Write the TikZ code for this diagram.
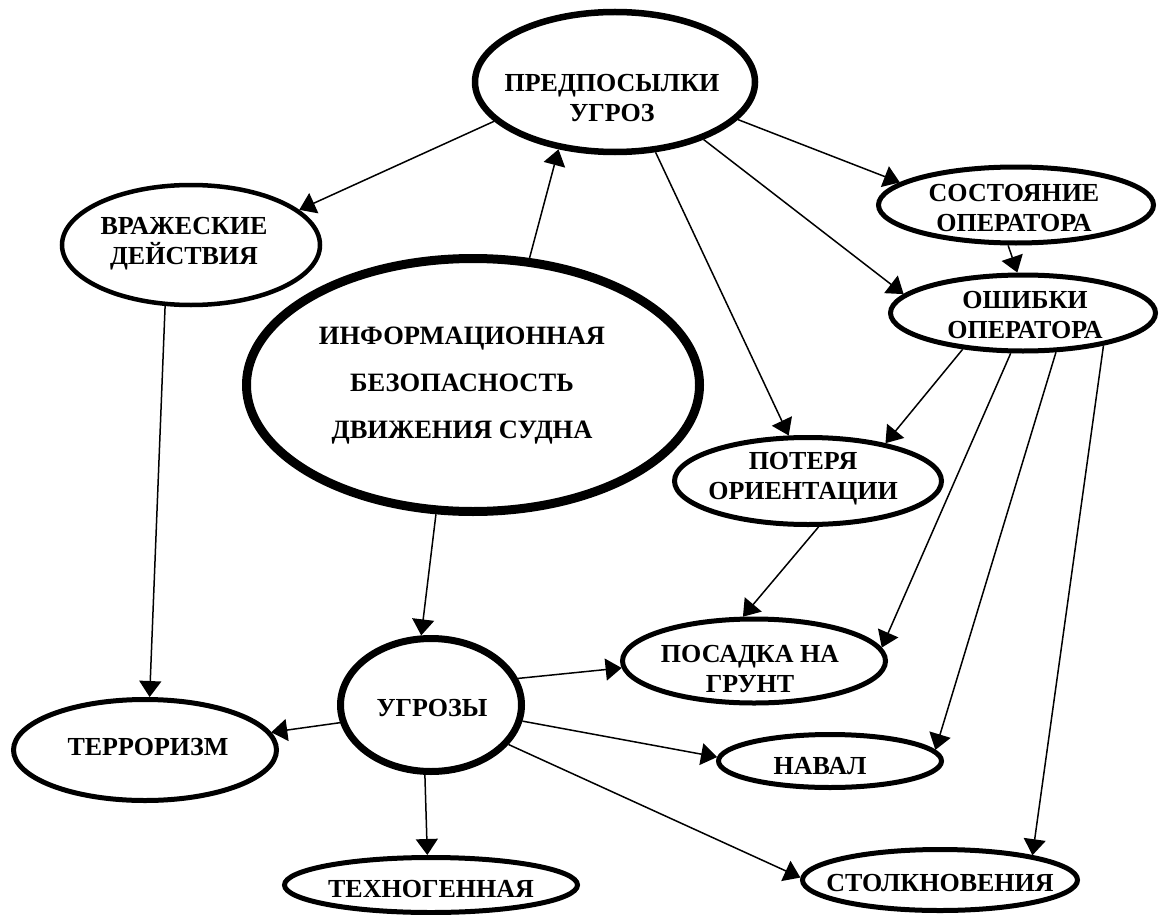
\documentclass[tikz,border=0pt]{standalone}
\usepackage{fontspec}
\setmainfont{Liberation Serif}
\usetikzlibrary{shapes.geometric,arrows.meta}
\begin{document}
\begin{tikzpicture}[x=1pt,y=-1pt,
  el/.style={ellipse, draw, inner sep=0pt, line width=5pt},
  txt/.style={align=center, font=\fontsize{26}{30}\selectfont\bfseries, inner sep=0pt},
  bigtxt/.style={align=center, font=\fontsize{26.5}{47}\selectfont\bfseries, inner sep=0pt},
  arr/.style={-{Triangle[length=16pt,width=22pt]}, line width=1.5pt}]
\useasboundingbox (0,0) rectangle (1159,915);
% ellipses
\node[el, line width=6.5pt, minimum width=280pt, minimum height=140pt] (pre) at (615,82) {};
\node[el, line width=4.5pt, minimum width=258pt, minimum height=120pt] (vra) at (191,245) {};
\node[el, minimum width=275pt, minimum height=76pt] (sos) at (1016,205) {};
\node[el, minimum width=265pt, minimum height=76pt] (osh) at (1023,313) {};
\node[el, line width=9pt, minimum width=453pt, minimum height=253pt] (inf) at (473,385) {};
\node[el, minimum width=267pt, minimum height=87pt] (pot) at (808,481) {};
\node[el, minimum width=263pt, minimum height=84pt] (pos) at (754,661) {};
\node[el, line width=7pt, minimum width=181pt, minimum height=133pt] (ugr) at (431,705) {};
\node[el, minimum width=263pt, minimum height=101pt] (ter) at (145,750) {};
\node[el, minimum width=293pt, minimum height=55pt] (tex) at (431,885) {};
\node[el, minimum width=223pt, minimum height=53pt] (nav) at (830,761) {};
\node[el, minimum width=275pt, minimum height=61pt] (sto) at (940,880) {};
% texts
\node[txt] (pret) at (612,98) {ПРЕДПОСЫЛКИ\\УГРОЗ};
\node[txt] (vrat) at (184,244) {ВРАЖЕСКИЕ\\ДЕЙСТВИЯ};
\node[txt] (sost) at (1014,208) {СОСТОЯНИЕ\\ОПЕРАТОРА};
\node[txt] (osht) at (1025,315) {ОШИБКИ\\ОПЕРАТОРА};
\node[bigtxt] (inft) at (462,386) {ИНФОРМАЦИОННАЯ\\БЕЗОПАСНОСТЬ\\ДВИЖЕНИЯ СУДНА};
\node[txt] (pott) at (803,479) {ПОТЕРЯ\\ОРИЕНТАЦИИ};
\node[txt] (post) at (750,669) {ПОСАДКА НА\\ГРУНТ};
\node[txt] (ugrt) at (432,708) {УГРОЗЫ};
\node[txt] (tert) at (148,747) {ТЕРРОРИЗМ};
\node[txt] (text) at (431,889) {ТЕХНОГЕННАЯ};
\node[txt] (navt) at (820,766) {НАВАЛ};
\node[txt] (stot) at (940,883) {СТОЛКНОВЕНИЯ};
% connectors
\draw[arr] (inf.66) -- (pre.230);
\draw[arr] (pre.198) -- (vra.18);
\draw[arr] (pre.343) -- (sos.169);
\draw[arr] (pre.327) -- (osh.171);
\draw[arr] (pre.300) -- (pot.113);
\draw[arr] (sos.259) -- (osh.98);
\draw[arr] (osh.211) -- (pot.26);
\draw[arr] (osh.253) -- (pos.6);
\draw[arr] (osh.310) -- (nav.6);
\draw[arr] (osh.338) -- (sto.15);
\draw[arr] (pot.283) -- (pos.104);
\draw[arr] (vra.247) -- (ter.85);
\draw[arr] (inf.254) -- (ugr.98);
\draw[arr] (ugr.17) -- (pos.183);
\draw[arr] (ugr.191) -- (ter.8);
\draw[arr] (ugr.350) -- (nav.178);
\draw[arr] (ugr.265) -- (tex.97);
\draw[arr] (ugr.333) -- (sto.179);
\end{tikzpicture}
\end{document}
